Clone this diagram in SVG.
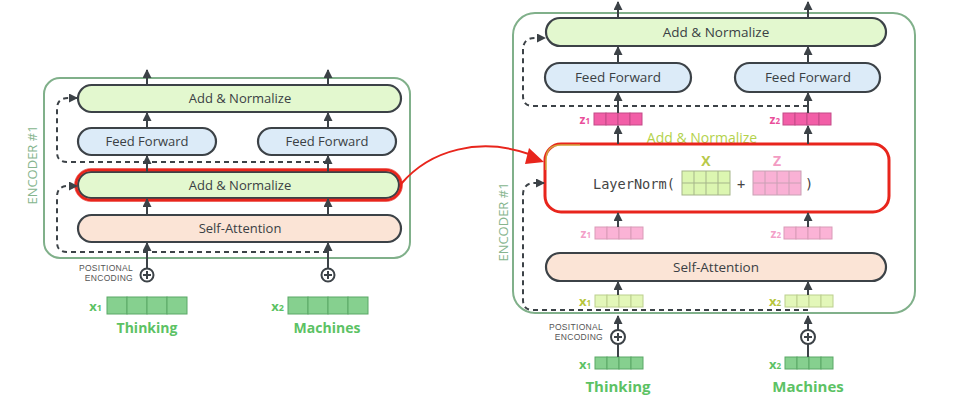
<svg xmlns="http://www.w3.org/2000/svg" width="962" height="400" viewBox="0 0 962 400">
<defs>
<marker id="ah" markerUnits="userSpaceOnUse" markerWidth="9" markerHeight="9" refX="8" refY="4.5" orient="auto"><path d="M0,0 L9,4.5 L0,9 z" fill="#3c4247"/></marker>
<style>
.box{stroke:#3c4247;stroke-width:2.2}
.an{fill:#e3f8cf}.ff{fill:#dcebf8}.sa{fill:#fbe4d6}
.lbl{font-family:"Open Sans","Noto Sans",sans-serif;fill:#3a3f44;text-anchor:middle}
.enc{fill:none;stroke:#80b08a;stroke-width:2}
.encT{font-family:"Open Sans","Noto Sans",sans-serif;fill:#86b58e;text-anchor:middle;font-size:13px}
.arr{stroke:#3c4247;stroke-width:2;fill:none;marker-end:url(#ah)}
.dash{stroke:#3c4247;stroke-width:2;fill:none;stroke-dasharray:5 4;marker-end:url(#ah)}
.pe{font-family:"Liberation Sans",Arial,sans-serif;fill:#555;font-size:8.5px;letter-spacing:0.3px;text-anchor:end}
.word{font-family:"Open Sans","Noto Sans",sans-serif;fill:#5cc264;font-weight:bold;text-anchor:middle}
.vl{font-family:"Open Sans","Noto Sans",sans-serif;font-weight:bold;text-anchor:end}
.g1{fill:#86d08f;stroke:#5aa866;stroke-width:1}
.zd{fill:#f25ea7;stroke:#c44b88;stroke-width:1}
.zl{fill:#fbb3d6;stroke:#d99bb8;stroke-width:1}
.xl{fill:#e3f7b9;stroke:#bccf8e;stroke-width:1}
.red{fill:none;stroke:#e8251c;stroke-width:2.6}
.cp{fill:#fff;stroke:#3c4247;stroke-width:2}
</style>
</defs>

<!-- LEFT ENCODER -->
<g id="left-encoder">
<rect class="enc" x="44" y="78" width="366" height="180" rx="16"/>
<text class="encT" transform="translate(37,165) rotate(-90)">ENCODER #1</text>
</g>
<g id="l-addnorm-top"><rect class="box an" x="78" y="85" width="323" height="27" rx="13.5"/><text class="lbl" x="240" y="103" font-size="13">Add &amp; Normalize</text></g>
<g id="l-ff1"><rect class="box ff" x="78" y="128" width="138" height="27" rx="13.5"/><text class="lbl" x="147" y="146" font-size="13">Feed Forward</text></g>
<g id="l-ff2"><rect class="box ff" x="258" y="128" width="138" height="27" rx="13.5"/><text class="lbl" x="327" y="146" font-size="13">Feed Forward</text></g>
<g id="l-addnorm"><rect class="box an" x="78" y="172" width="321" height="26" rx="13"/><rect class="red" x="76" y="170" width="325" height="30" rx="15"/><rect fill="none" stroke="#e8251c" stroke-width="1" x="74.5" y="168.5" width="328" height="33" rx="16.5" opacity="0.6"/><text class="lbl" x="240" y="190" font-size="13">Add &amp; Normalize</text></g>
<g id="l-selfattn"><rect class="box sa" x="78" y="215" width="323" height="27" rx="13.5"/><text class="lbl" x="240" y="233" font-size="13">Self-Attention</text></g>
<g id="l-pe1"><circle class="cp" cx="147" cy="275" r="6.5"/><path d="M143,275 H151 M147,271 V279" stroke="#3c4247" stroke-width="2"/><text class="pe" x="133" y="271">POSITIONAL</text><text class="pe" x="133" y="281">ENCODING</text></g>
<g id="l-pe2"><circle class="cp" cx="328" cy="275" r="6.5"/><path d="M324,275 H332 M328,271 V279" stroke="#3c4247" stroke-width="2"/></g>
<g id="l-x1">
<rect class="g1" x="107" y="297" width="20" height="17"/><rect class="g1" x="127" y="297" width="20" height="17"/><rect class="g1" x="147" y="297" width="20" height="17"/><rect class="g1" x="167" y="297" width="20" height="17"/>
<text class="vl" x="102" y="311" font-size="13" fill="#5cc264">x<tspan font-size="9">1</tspan></text>
<text class="word" x="147" y="333" font-size="14">Thinking</text>
</g>
<g id="l-x2">
<rect class="g1" x="288" y="297" width="20" height="17"/><rect class="g1" x="308" y="297" width="20" height="17"/><rect class="g1" x="328" y="297" width="20" height="17"/><rect class="g1" x="348" y="297" width="20" height="17"/>
<text class="vl" x="284" y="311" font-size="13" fill="#5cc264">x<tspan font-size="9">2</tspan></text>
<text class="word" x="327" y="333" font-size="14">Machines</text>
</g>

<!-- RIGHT ENCODER -->
<g id="right-encoder">
<rect class="enc" x="513" y="13" width="402" height="300" rx="22"/>
<text class="encT" font-size="12.5" transform="translate(508,222) rotate(-90)">ENCODER #1</text>
</g>
<g id="r-addnorm-top"><rect class="box an" x="546" y="18" width="340" height="28" rx="14"/><text class="lbl" x="716" y="37" font-size="13.5">Add &amp; Normalize</text></g>
<g id="r-ff1"><rect class="box ff" x="545" y="63" width="146" height="29" rx="14.5"/><text class="lbl" x="618" y="82" font-size="13.5">Feed Forward</text></g>
<g id="r-ff2"><rect class="box ff" x="735" y="63" width="145" height="29" rx="14.5"/><text class="lbl" x="808" y="82" font-size="13.5">Feed Forward</text></g>
<g id="r-z1">
<rect class="zd" x="594" y="113" width="12" height="12"/><rect class="zd" x="606" y="113" width="12" height="12"/><rect class="zd" x="618" y="113" width="12" height="12"/><rect class="zd" x="630" y="113" width="12" height="12"/>
<text class="vl" x="590" y="124" font-size="12" fill="#e94d9a">z<tspan font-size="8">1</tspan></text>
</g>
<g id="r-z2">
<rect class="zd" x="783" y="113" width="12" height="12"/><rect class="zd" x="795" y="113" width="12" height="12"/><rect class="zd" x="807" y="113" width="12" height="12"/><rect class="zd" x="819" y="113" width="12" height="12"/>
<text class="vl" x="780" y="124" font-size="12" fill="#e94d9a">z<tspan font-size="8">2</tspan></text>
</g>
<g id="r-layernorm">
<text x="702" y="143" font-family="Open Sans, Noto Sans, sans-serif" font-size="14" fill="#b3d24c" text-anchor="middle">Add &amp; Normalize</text>
<rect x="545" y="144" width="344" height="68" rx="16" fill="#fff" stroke="#e8251c" stroke-width="3"/>
<path d="M546,170 V160 Q546,145 561,145 H580" fill="none" stroke="#c8d84a" stroke-width="1.5" opacity="0.7"/>
<text x="593" y="189" font-family="DejaVu Sans Mono, Liberation Mono, monospace" font-size="13.6" fill="#444">LayerNorm(</text>
<text x="741" y="189" font-family="DejaVu Sans Mono, monospace" font-size="13.6" fill="#444" text-anchor="middle">+</text>
<text x="809" y="189" font-family="DejaVu Sans Mono, monospace" font-size="13.6" fill="#444" text-anchor="middle">)</text>
<text x="706" y="166" font-family="Open Sans, Noto Sans, sans-serif" font-size="14" font-weight="bold" fill="#b8c94a" text-anchor="middle">X</text>
<text x="777" y="166" font-family="Open Sans, Noto Sans, sans-serif" font-size="14" font-weight="bold" fill="#f39cc3" text-anchor="middle">Z</text>
<rect x="682" y="171" width="48" height="24" fill="#dcf6b1" stroke="#a5b58a"/>
<path d="M694,171 V195 M706,171 V195 M718,171 V195 M682,183 H730" stroke="#a5b58a" stroke-width="1"/>
<rect x="753" y="171" width="48" height="24" fill="#f9b1d5" stroke="#c9a0b4"/>
<path d="M765,171 V195 M777,171 V195 M789,171 V195 M753,183 H801" stroke="#c9a0b4" stroke-width="1"/>
</g>
<g id="r-z1l">
<rect class="zl" x="595" y="227" width="12" height="12"/><rect class="zl" x="607" y="227" width="12" height="12"/><rect class="zl" x="619" y="227" width="12" height="12"/><rect class="zl" x="631" y="227" width="12" height="12"/>
<text class="vl" x="591" y="238" font-size="12" fill="#f3a0c8">z<tspan font-size="8">1</tspan></text>
</g>
<g id="r-z2l">
<rect class="zl" x="784" y="227" width="12" height="12"/><rect class="zl" x="796" y="227" width="12" height="12"/><rect class="zl" x="808" y="227" width="12" height="12"/><rect class="zl" x="820" y="227" width="12" height="12"/>
<text class="vl" x="781" y="238" font-size="12" fill="#f3a0c8">z<tspan font-size="8">2</tspan></text>
</g>
<g id="r-selfattn"><rect class="box sa" x="546" y="253" width="340" height="28" rx="14"/><text class="lbl" x="716" y="272" font-size="13.5">Self-Attention</text></g>
<g id="r-x1l">
<rect class="xl" x="595" y="295" width="12" height="12"/><rect class="xl" x="607" y="295" width="12" height="12"/><rect class="xl" x="619" y="295" width="12" height="12"/><rect class="xl" x="631" y="295" width="12" height="12"/>
<text class="vl" x="591" y="306" font-size="13" fill="#b6c63c">x<tspan font-size="8">1</tspan></text>
</g>
<g id="r-x2l">
<rect class="xl" x="785" y="295" width="12" height="12"/><rect class="xl" x="797" y="295" width="12" height="12"/><rect class="xl" x="809" y="295" width="12" height="12"/><rect class="xl" x="821" y="295" width="12" height="12"/>
<text class="vl" x="781" y="306" font-size="13" fill="#b6c63c">x<tspan font-size="8">2</tspan></text>
</g>
<g id="r-pe1"><circle class="cp" cx="618" cy="337" r="7"/><path d="M614,337 H622 M618,333 V341" stroke="#3c4247" stroke-width="2"/><text class="pe" x="603" y="330">POSITIONAL</text><text class="pe" x="603" y="340">ENCODING</text></g>
<g id="r-pe2"><circle class="cp" cx="808" cy="337" r="7"/><path d="M804,337 H812 M808,333 V341" stroke="#3c4247" stroke-width="2"/></g>
<g id="r-x1">
<rect class="g1" x="595" y="357" width="12" height="12"/><rect class="g1" x="607" y="357" width="12" height="12"/><rect class="g1" x="619" y="357" width="12" height="12"/><rect class="g1" x="631" y="357" width="12" height="12"/>
<text class="vl" x="591" y="369" font-size="13" fill="#5cc264">x<tspan font-size="8">1</tspan></text>
<text class="word" x="618" y="392" font-size="15">Thinking</text>
</g>
<g id="r-x2">
<rect class="g1" x="785" y="357" width="12" height="12"/><rect class="g1" x="797" y="357" width="12" height="12"/><rect class="g1" x="809" y="357" width="12" height="12"/><rect class="g1" x="821" y="357" width="12" height="12"/>
<text class="vl" x="781" y="369" font-size="13" fill="#5cc264">x<tspan font-size="8">2</tspan></text>
<text class="word" x="808" y="392" font-size="15">Machines</text>
</g>

<g id="connectors">
<!-- left -->
<path class="arr" d="M147,85 V70"/><path class="arr" d="M328,85 V70"/>
<path class="arr" d="M147,128 V113"/><path class="arr" d="M328,128 V113"/>
<path class="arr" d="M147,172 V156"/><path class="arr" d="M328,172 V156"/>
<path class="arr" d="M147,215 V199"/><path class="arr" d="M328,215 V199"/>
<path class="arr" d="M147,268 V243"/><path class="arr" d="M328,268 V243"/>
<path class="dash" d="M328,162 H67 Q57,162 57,152 V109 Q57,98 68,98 H77"/>
<path class="dash" d="M328,252 H67 Q57,252 57,242 V197 Q57,186 68,186 H77"/>
<!-- right -->
<path class="arr" d="M618,18 V2"/><path class="arr" d="M808,18 V2"/>
<path class="arr" d="M618,63 V47"/><path class="arr" d="M808,63 V47"/>
<path class="arr" d="M618,113 V93"/><path class="arr" d="M808,113 V93"/>
<path class="arr" d="M618,144 V126"/><path class="arr" d="M808,144 V126"/>
<path class="arr" d="M618,227 V213"/><path class="arr" d="M808,227 V213"/>
<path class="arr" d="M618,295 V282"/><path class="arr" d="M808,295 V282"/>
<path class="arr" d="M618,330 V316"/><path class="arr" d="M808,330 V316"/>
<path d="M618,344 V357 M808,344 V357" stroke="#3c4247" stroke-width="2"/>
<path class="dash" d="M808,106 H533 Q523,106 523,96 V50 Q523,38 535,38 H545"/>
<path class="dash" d="M808,310 H533 Q523,310 523,300 V195 Q523,183 535,183 H544"/>
<!-- red highlight arrow -->
<path d="M401,184 C430,150 480,136 532,155" fill="none" stroke="#e8251c" stroke-width="2"/>
<polygon points="544,162 529,148 525,164" fill="#e8251c"/>
</g>
</svg>
